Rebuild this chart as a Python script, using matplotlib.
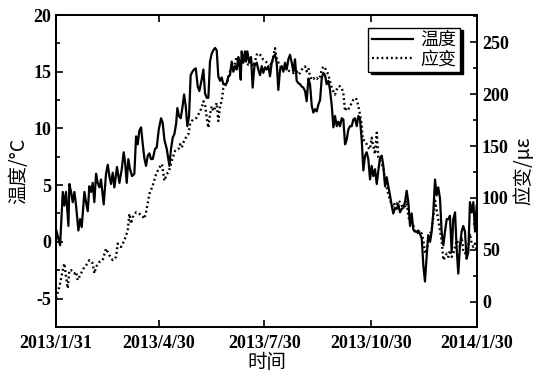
import matplotlib
matplotlib.use('Agg')
import matplotlib.pyplot as plt
from matplotlib.ticker import MultipleLocator

plt.rcParams['font.family'] = 'Liberation Serif'
plt.rcParams['font.weight'] = 'bold'
plt.rcParams['axes.unicode_minus'] = False
plt.rcParams['xtick.direction'] = 'in'
plt.rcParams['ytick.direction'] = 'in'

# days counted from 2013/1/31
temp_day = [0, 3.5, 5.8, 7.2, 8.6, 10.7, 11.5, 13, 14.4, 15.9, 17.3, 19.3, 20.8, 22.2, 24.5, 25.9,
            27.4, 28.8, 30.3, 31.7, 33.1, 34.6, 36, 37.5, 38.9, 41.2, 43.2, 44.7, 46.1, 47.5, 49,
            50.4, 52.7, 54.8, 56.8, 58.5, 59.7, 61.1, 62.5, 64, 65.7, 67.7, 69.2, 70.6, 72, 73.5,
            74.9, 76.3, 77.8, 79.3, 80.7, 82.1, 83.6, 85.6, 87, 88.8, 90.8, 92.2, 93.7, 95.7, 98,
            99.4, 100.9, 102.3, 103.8, 104.9, 106.3, 107.8, 109.2, 110.7, 112.1, 113.5, 115, 116.4,
            117.9, 119.3, 120.8, 122.5, 123.9, 125.9, 127.4, 128.8, 130.3, 131.7, 133.1, 134.6, 136,
            137.5, 138.9, 140.3, 141.8, 143.2, 144.7, 146.1, 147.6, 149, 150.4, 151.9, 153.3, 154.8,
            156.2, 157.6, 158.5, 159.7, 160.5, 161.9, 163.4, 164.3, 165.4, 167.1, 168.6, 170, 171.5,
            173.5, 174.9, 176.4, 177.8, 179.2, 180.7, 182.1, 183.6, 185, 186.5, 187.9, 189.3, 190.8,
            192.2, 193.7, 195.1, 196.5, 198, 199.4, 200.9, 202.3, 203.8, 205.2, 206.6, 208.1, 209.5,
            211, 212.4, 213.8, 215.3, 216.7, 218.2, 219.6, 221.1, 222.5, 223.9, 225.4, 226.8, 228.3,
            229.7, 231.1, 232.6, 234, 235.5, 236.9, 238.4, 239.8, 241.2, 242.7, 244.1, 245.5, 247,
            248.4, 249.9, 251.3, 252.7, 254.2, 255.6, 257.1, 258.5, 260, 261.4, 262.8, 264.3, 265.7,
            267.2, 268.6, 270, 271.5, 272.9, 274.3, 275.8, 277.3, 278.7, 280.1, 281.6, 283, 284.5,
            285.9, 287.3, 288.8, 290.2, 291.6, 293.1, 294.6, 296, 297.4, 298.9, 300.3, 301.7, 303.2,
            304.6, 306.1, 307.5, 308.9, 310.4, 311.8, 313.3, 314.7, 316.2, 317.6, 319, 320.5, 321.9,
            323.4, 324.8, 326.2, 327.7, 329.1, 330.5, 332, 333.4, 334.9, 336.3, 337.8, 339.2, 340.6,
            342.1, 343.5, 345, 346.4, 347.8, 349.3, 350.7, 352.1, 353.6, 355, 356.5, 357.9, 359.4,
            360.8, 362.3, 363.7]
temp = [1.1, -0.3, 4.4, 3.2, 4.4, 1.4, 5.1, 4.4, 3.5, 4.4, 3.2, 1.0, 2.0, 1.3, 4.4, 3.5,
        2.7, 4.9, 4.4, 5.2, 3.5, 6.0, 5.2, 4.8, 5.5, 3.3, 6.0, 6.8, 5.8, 5.1, 6.1,
        4.8, 6.6, 5.2, 6.4, 7.9, 7.0, 5.2, 7.3, 6.4, 5.8, 6.0, 9.3, 8.6, 9.8, 10.1,
        8.7, 7.4, 6.7, 7.6, 7.8, 7.3, 7.3, 8.2, 8.3, 9.9, 10.9, 10.5, 9.0, 8.2, 6.7,
        8.2, 9.2, 9.5, 10.4, 11.8, 11.1, 10.9, 11.8, 13.0, 12.0, 10.2, 11.1, 14.7,
        15.0, 15.2, 15.3, 13.7, 13.3, 14.3, 15.2, 13.1, 12.7, 12.7, 15.9, 16.6, 16.9,
        17.1, 16.9, 14.6, 14.2, 14.5, 13.9, 13.9, 14.0, 14.6, 14.7, 15.9, 15.0, 15.5,
        15.2, 16.3, 15.6, 14.3, 16.8, 15.8, 16.8, 15.9, 16.8, 15.8, 16.3, 13.6, 15.5,
        15.8, 15.2, 14.7, 15.5, 14.9, 15.4, 15.2, 15.5, 14.6, 15.8, 16.3, 16.5, 15.8,
        13.4, 15.2, 15.5, 15.0, 15.8, 15.2, 16.1, 16.5, 15.8, 15.0, 16.1, 14.2, 14.0,
        13.9, 13.7, 13.6, 13.3, 12.4, 14.4, 13.9, 12.0, 11.4, 11.7, 11.5, 12.1, 12.5,
        14.4, 14.9, 14.7, 13.9, 14.2, 13.4, 12.0, 10.1, 11.1, 10.2, 10.6, 10.2, 10.9,
        10.8, 8.6, 9.0, 9.9, 10.2, 10.2, 10.8, 10.9, 10.2, 11.1, 10.8, 9.0, 6.3,
        7.6, 7.9, 7.3, 5.5, 6.7, 5.8, 6.4, 5.1, 6.3, 7.4, 7.6, 6.7, 4.9,
        5.7, 4.9, 4.1, 3.2, 2.5, 3.0, 2.9, 3.3, 2.6, 2.9, 3.0, 3.5, 4.5,
        3.5, 1.4, 2.5, 1.1, 0.9, 0.9, 1.0, 0.7, 0.3, -2.1, -3.5, -1.2, 0.6,
        0.0, 0.9, 2.6, 5.5, 4.1, 4.8, 3.8, 0.9, -0.3, 0.9, 2.0, 2.0, 2.3,
        -0.9, 2.0, 2.6, -0.6, -2.8, -0.3, 0.9, 1.4, 0.9, -1.5, -0.9, 3.5, 2.6,
        3.5, 0.9, 3.2]

strain_day = [0, 2.9, 5.8, 7.2, 8.6, 10.1, 11.5, 13, 15.9, 17.3, 18.7, 21.6, 24.5, 27.4, 28.8,
              31.7, 33.1, 34.6, 37.5, 40.3, 43.2, 46.1, 49, 51.9, 53.3, 56.2, 59.1, 62, 63.4,
              64.8, 66.3, 69.2, 72, 74.4, 76.3, 77.8, 80.7, 83.6, 86.5, 89.3, 91.6, 93.7, 95.7,
              97.1, 98.6, 100, 101.4, 102.9, 105.8, 107.2, 108.7, 110.1, 113, 114.4, 115.9, 117.3,
              118.7, 121.6, 123, 124.5, 125.9, 127.4, 128.8, 130.3, 131.7, 133.1, 134.6, 136, 137.5,
              138.9, 140.3, 141.8, 143.2, 144.7, 146.1, 147.6, 149, 150.4, 151.9, 153.3, 154.8,
              156.2, 157.6, 159.1, 160.5, 161.9, 163.4, 164.8, 166.3, 167.7, 169.2, 170.6, 172,
              173.5, 174.9, 176.4, 177.8, 179.2, 180.7, 183.6, 186.5, 188.7, 189.3, 190.8, 193.7,
              196.5, 199.4, 202.3, 205.2, 208.1, 209.5, 211, 212.4, 213.8, 215.3, 216.7, 218.2,
              219.6, 221.1, 222.5, 223.9, 225.4, 226.8, 228.3, 229.7, 231.1, 232.6, 234, 235.5,
              236.9, 238.4, 239.8, 241.2, 242.7, 244.1, 245.5, 247, 248.4, 249.9, 251.3, 252.7,
              254.2, 255.6, 257.1, 258.5, 260, 261.4, 262.8, 264.3, 265.1, 267.2, 268.6, 270,
              271.5, 272.9, 274.3, 275.8, 277.3, 278.7, 280.1, 281.6, 283, 284.5, 285.9, 287.3,
              288.8, 290.2, 291.6, 293.1, 294.6, 296, 297.4, 298.9, 300.3, 301.7, 303.2, 304.6,
              306.1, 307.5, 308.9, 310.4, 311.8, 313.3, 314.7, 316.2, 317.6, 319, 320.5, 321.9,
              323.4, 324.8, 326.2, 327.7, 329.1, 330.5, 332, 333.4, 334.9, 336.3, 337.8, 339.2,
              340.6, 342.1, 343.5, 345, 346.4, 347.8, 349.3, 350.7, 352.1, 353.6, 355, 356.5,
              357.9, 359.4, 360.8, 362.3, 363.7]
strain = [3.5, 14.6, 30.6, 37.0, 24.2, 13.1, 30.6, 30.6, 27.4, 29.0, 21.0, 27.4, 33.7, 37.0, 40.2,
          37.0, 27.4, 33.7, 38.5, 40.2, 51.3, 44.9, 40.2, 43.3, 56.1, 52.9, 59.3, 68.8, 84.8,
          75.2, 81.5, 86.3, 84.8, 83.2, 80.0, 86.3, 103.9, 111.9, 123.0, 129.3, 132.6, 116.6, 123.0,
          124.6, 129.3, 135.8, 140.5, 145.3, 146.9, 151.7, 148.5, 153.3, 159.7, 161.3, 170.8, 174.0,
          175.6, 177.2, 180.4, 183.6, 186.7, 193.1, 190.0, 177.2, 167.6, 180.4, 188.3, 183.6, 186.7,
          191.5, 174.0, 188.3, 193.1, 205.8, 207.5, 210.6, 215.4, 221.8, 223.4, 226.6, 229.7,
          236.1, 234.5, 231.4, 234.5, 231.4, 232.9, 229.7, 228.2, 228.2, 231.4, 226.6, 231.4,
          237.8, 239.3, 237.8, 236.1, 232.9, 231.4, 229.7, 228.2, 240.9, 244.1, 234.5, 226.6,
          225.0, 223.4, 221.8, 220.2, 221.8, 218.6, 220.2, 223.4, 225.0, 226.6, 221.8, 225.0,
          217.0, 213.9, 215.4, 213.9, 215.4, 213.9, 217.0, 223.4, 226.6, 225.0, 221.8, 218.6,
          212.2, 205.8, 202.7, 199.5, 204.3, 207.5, 207.5, 205.8, 201.1, 183.6, 186.7, 185.2,
          188.3, 191.5, 194.7, 196.3, 194.7, 188.3, 180.4, 170.8, 156.5, 154.9, 151.7, 148.5,
          146.9, 158.0, 150.1, 142.2, 162.8, 138.9, 135.8, 132.6, 129.3, 116.6, 110.2, 103.9,
          97.5, 94.4, 91.1, 95.9, 94.4, 97.5, 95.9, 92.7, 91.1, 91.1, 97.5, 81.5,
          78.4, 75.2, 73.6, 67.2, 65.7, 67.2, 67.2, 65.7, 59.3, 46.6, 49.7, 62.4,
          65.7, 68.8, 81.5, 97.5, 88.0, 78.4, 68.8, 59.3, 40.2, 43.3, 46.6, 43.3,
          49.7, 43.3, 46.6, 52.9, 59.3, 56.1, 52.9, 62.4, 49.7, 46.6, 49.7, 52.9,
          65.7, 56.1, 52.9, 56.1, 49.7]

tick_days = [0, 89, 180, 272, 364]
tick_labels = ['2013/1/31', '2013/4/30', '2013/7/30', '2013/10/30', '2014/1/30']

cjk = ['Noto Sans CJK SC', 'DejaVu Sans']

fig = plt.figure(figsize=(5.39, 3.77), dpi=100)
ax = fig.add_axes([0.104, 0.133, 0.781, 0.827])
ax2 = ax.twinx()

l1, = ax.plot(temp_day, temp, color='black', lw=1.6, label='温度')
l2, = ax2.plot(strain_day, strain, color='black', lw=1.7, ls=(0, (0.8, 1.2)), label='应变')

ax.set_xlim(0, 364)
ax.set_ylim(-7.5, 20)
ax2.set_ylim(-24, 276)

ax.set_xticks(tick_days, tick_labels)
ax.yaxis.set_major_locator(MultipleLocator(5))
ax.yaxis.set_minor_locator(MultipleLocator(2.5))
ax2.yaxis.set_major_locator(MultipleLocator(50))
ax2.yaxis.set_minor_locator(MultipleLocator(25))

ax.tick_params(axis='x', top=True, length=5, width=1.2, labelsize=13, pad=6)
ax.tick_params(axis='y', which='major', length=5, width=1.2, labelsize=13)
ax.tick_params(axis='y', which='minor', length=3, width=1.2)
ax2.tick_params(axis='y', which='major', length=5, width=1.2, labelsize=13)
ax2.tick_params(axis='y', which='minor', length=3, width=1.2)

for a in (ax, ax2):
    for s in a.spines.values():
        s.set_linewidth(1.3)

ax.set_xlabel('时间', family=cjk, fontweight='normal', fontsize=14, labelpad=0)
ax.set_ylabel('温度/°C', family=cjk, fontweight='normal', fontsize=14, labelpad=3)
ax2.set_ylabel('应变/με', family=cjk, fontweight='normal', fontsize=14, labelpad=3)

ax2.legend(handles=[l1, l2], loc='upper right', bbox_to_anchor=(0.96, 0.96), borderaxespad=0,
           prop={'family': cjk, 'size': 13, 'weight': 'normal'}, fancybox=False,
           edgecolor='black', framealpha=1, shadow={'color': 'black', 'alpha': 1},
           handlelength=2.3, handletextpad=0.4, borderpad=0.2, labelspacing=0.05)

plt.savefig('out.png', dpi=100)
